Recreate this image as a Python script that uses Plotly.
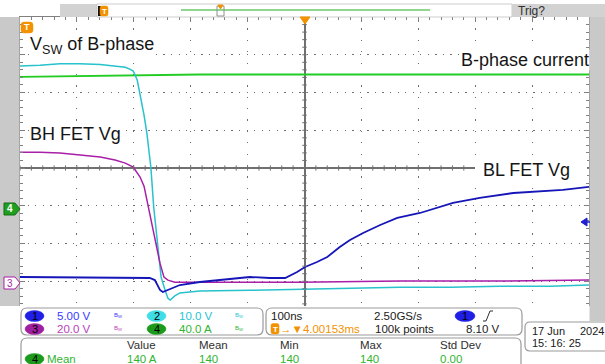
import plotly.graph_objects as go

W, H = 605, 364

# ---------------- data (time in ns, values in channel units) ----------------
ch2_t = [-500, -465, -430, -395, -359, -333, -315, -307, -301, -294, -289, -282, -277,
         -270, -265, -259, -252, -245, -240, -236, -228, -219, -184, -96, -8, 80, 168,
         256, 344, 431, 500]
ch2_v = [57.5, 57.7, 58.1, 58.1, 57.9, 57.6, 57.2, 56.7, 56.2, 53.8, 50.3, 44.5, 39.7,
         30.7, 20.1, 10.6, 1.6, -1.9, -4.0, -4.5, -3.4, -2.6, -2.1, -1.9, -1.6, -1.3, -1.1,
         -1.1, -0.8, -0.8, -0.5]

ch4_t = [-500, -430, -359, -272, -184, -8, 168, 344, 500]
ch4_a = [140.0, 140.5, 141.0, 141.5, 142.5, 142.5, 142.5, 142.5, 142.5]

ch3_t = [-500, -465, -430, -395, -359, -333, -315, -301, -289, -282, -277, -268, -259,
         -254, -247, -240, -228, -184, -8, 168, 344, 500]
ch3_v = [69.4, 69.4, 68.9, 67.8, 66.8, 65.2, 63.6, 61.5, 56.2, 51.4, 44.0, 31.8, 17.5,
         10.6, 3.2, 1.6, 0.5, 0.5, 0.5, 1.1, 1.1, 1.6]

ch1_t = [-500, -359, -272, -263, -254, -249, -236, -219, -184, -131, -96, -61, -34, -13,
         1, 22, 40, 62, 80, 103, 133, 163, 203, 261, 308, 367, 402, 454, 500]
ch1_v = [0.66, 0.53, 0.53, 0.26, -1.06, -1.33, -0.93, -0.40, 0.0, 0.40, 0.66, 0.53, 0.53,
         1.33, 1.99, 2.65, 3.31, 4.64, 5.57, 6.49, 7.55, 8.48, 9.14, 10.47, 11.13, 11.79,
         11.93, 12.19, 12.59]

# channel settings: volts (amps) per division and ground position in divisions
CH1_SCALE, CH1_GND = 5.0, -3.02
CH2_SCALE, CH2_GND = 10.0, -3.05
CH3_SCALE, CH3_GND = 20.0, -3.05
CH4_SCALE, CH4_GND = 40.0, -1.086

C_BLUE = "#1515b8"
C_CYAN = "#27c2cc"
C_MAG = "#a81fa8"
C_GREEN = "#22cc22"
C_ORANGE = "#f39200"


def to_div(vals, scale, gnd):
    return [v / scale + gnd for v in vals]


fig = go.Figure()
fig.add_trace(go.Scatter(x=ch4_t, y=to_div(ch4_a, CH4_SCALE, CH4_GND), mode="lines",
                         line=dict(color=C_GREEN, width=1.8), hoverinfo="skip"))
fig.add_trace(go.Scatter(x=ch2_t, y=to_div(ch2_v, CH2_SCALE, CH2_GND), mode="lines",
                         line=dict(color=C_CYAN, width=1.5), hoverinfo="skip"))
fig.add_trace(go.Scatter(x=ch3_t, y=to_div(ch3_v, CH3_SCALE, CH3_GND), mode="lines",
                         line=dict(color=C_MAG, width=1.5), hoverinfo="skip"))
fig.add_trace(go.Scatter(x=ch1_t, y=to_div(ch1_v, CH1_SCALE, CH1_GND), mode="lines",
                         line=dict(color=C_BLUE, width=1.8), hoverinfo="skip"))

# ---------------- helpers (pixel -> paper) ----------------
def PX(x):
    return x / W


def PY(y):
    return 1 - y / H


def P(x, y):
    return f"{x / W:.5f},{1 - y / H:.5f}"


shapes = []
annos = []


def rect(x0, y0, x1, y1, fill, line=None, lw=0):
    shapes.append(dict(type="rect", xref="paper", yref="paper", x0=PX(x0), x1=PX(x1),
                       y0=PY(y1), y1=PY(y0), fillcolor=fill, layer="above",
                       line=dict(color=line or fill, width=lw)))


def rrect(x0, y0, x1, y1, r, fill="white", line="#9a9a9a", lw=1.2):
    path = (f"M{P(x0 + r, y0)} L{P(x1 - r, y0)} Q{P(x1, y0)} {P(x1, y0 + r)} "
            f"L{P(x1, y1 - r)} Q{P(x1, y1)} {P(x1 - r, y1)} L{P(x0 + r, y1)} "
            f"Q{P(x0, y1)} {P(x0, y1 - r)} L{P(x0, y0 + r)} Q{P(x0, y0)} {P(x0 + r, y0)} Z")
    shapes.append(dict(type="path", path=path, xref="paper", yref="paper",
                       fillcolor=fill, layer="above", line=dict(color=line, width=lw)))


def poly(pts, fill, line=None, lw=1):
    path = "M" + " L".join(P(x, y) for x, y in pts) + " Z"
    shapes.append(dict(type="path", path=path, xref="paper", yref="paper",
                       fillcolor=fill, layer="above", line=dict(color=line or fill, width=lw)))


def seg(x0, y0, x1, y1, color, lw=1):
    shapes.append(dict(type="line", xref="paper", yref="paper", x0=PX(x0), y0=PY(y0),
                       x1=PX(x1), y1=PY(y1), layer="above", line=dict(color=color, width=lw)))


def ellipse(x0, y0, x1, y1, fill):
    shapes.append(dict(type="circle", xref="paper", yref="paper", x0=PX(x0), x1=PX(x1),
                       y0=PY(y1), y1=PY(y0), fillcolor=fill, layer="above",
                       line=dict(color=fill, width=0.5)))


FONT = "Liberation Sans, Arial, sans-serif"


def text(x, y, s, color="#202020", size=11, xanchor="left", bg=None, family=FONT, pad=0):
    a = dict(xref="paper", yref="paper", x=PX(x), y=PY(y), text=s, showarrow=False,
             xanchor=xanchor, yanchor="middle", font=dict(family=family, size=size, color=color),
             borderpad=pad)
    if bg:
        a["bgcolor"] = bg
    annos.append(a)


# ---------------- crosshair minor ticks (data coords) ----------------
for k in range(51):
    t = -500 + 20 * k
    if t == 0 or t > 290:
        continue
    shapes.append(dict(type="line", xref="x", yref="y", x0=t, x1=t, y0=-0.07, y1=0.07,
                       layer="above", line=dict(color="#707070", width=1)))
for k in range(41):
    yv = -4 + 0.2 * k
    if abs(yv) < 1e-6:
        continue
    shapes.append(dict(type="line", xref="x", yref="y", x0=-4, x1=4, y0=yv, y1=yv,
                       layer="above", line=dict(color="#707070", width=1)))

# ---------------- scope chrome ----------------
rect(0, 17, 19.5, 306, "#c9c9c9")
rect(589.5, 4, 605, 321, "#c9c9c9")
rect(60, 4, 97, 17, "#d2d2d2")
rect(97, 4, 512, 17, "#ffffff", "#c0c0c0", 0.8)
rect(512, 4, 605, 17, "#d2d2d2")
text(517, 11, "Trig?", "#303030", 12)
seg(181, 10, 430, 10, "#8fd68f", 2)
rect(217, 6, 224, 16, "rgba(0,0,0,0)", "#909090", 1)
poly([(218, 5), (223, 5), (220.5, 9)], C_ORANGE)
rect(98, 6, 101, 16, "#101010")
rrect(100, 6, 108, 16, 2, C_ORANGE, C_ORANGE, 0.5)
text(104, 11, "<b>T</b>", "white", 8, "center")

# trigger position marker and T marker
poly([(300, 17), (310, 17), (305, 24)], C_ORANGE)
rrect(21, 22, 33, 33, 3, C_ORANGE, C_ORANGE, 0.5)
text(27, 27.5, "<b>T</b>", "white", 9, "center")

# ground markers
poly([(4, 203), (15, 203), (20, 209), (15, 215), (4, 215)], "#1f9e1f", "#137013", 1)
text(10, 209, "<b>4</b>", "white", 10, "center")
poly([(4, 277), (15, 277), (20, 283), (15, 289), (4, 289)], "white", C_MAG, 1)
text(10, 283, "3", C_MAG, 10, "center")

# trigger level marker (right)
poly([(581, 222), (587, 218), (587, 226)], "#2020d0")
seg(584, 222, 590, 222, "#2020d0", 1.5)

# white box behind "BL FET Vg"
rect(475, 158, 587, 180, "white")

# big labels
BIG = "Liberation Sans, Arial, sans-serif"
text(29, 45, "V<sub>SW</sub> of B-phase", "#151515", 18, bg="white", family=BIG, pad=0)
text(29, 134, "BH FET Vg", "#151515", 18, bg="white", family=BIG, pad=0)
text(460, 60, "B-phase current", "#151515", 18, bg="white", family=BIG, pad=0)
text(482, 170, "BL FET Vg", "#151515", 18, bg="white", family=BIG, pad=0)

# ---------------- bottom panels ----------------
rect(0, 306, 605, 364, "white")
rect(589.5, 306, 605, 321, "#c9c9c9")
rrect(21, 308, 263, 335, 6)
rrect(266, 308, 522, 335, 6)
rrect(525, 322, 620, 351, 5)
rrect(21, 338, 521, 380, 6)

R1, R2 = 316, 329
ellipse(25, 310.5, 44, 321.5, "#1f1fe6")
text(34.5, R1, "1", "black", 11, "center")
text(56, R1, "5.00 V", "#3a3aff", 11.5)
text(113, R1 - 1, "B<sub>W</sub>", "#3a3aff", 6)
ellipse(147, 310.5, 166, 321.5, "#3fdde6")
text(156.5, R1, "2", "black", 11, "center")
text(178, R1, "10.0 V", "#24c4cf", 11.5)
text(234, R1 - 1, "B<sub>W</sub>", "#24c4cf", 6)

ellipse(25, 323.5, 44, 334.5, "#a01ea0")
text(34.5, R2, "3", "black", 11, "center")
text(56, R2, "20.0 V", "#bb3dbb", 11.5)
text(113, R2 - 1, "B<sub>W</sub>", "#bb3dbb", 6)
ellipse(147, 323.5, 166, 334.5, "#1c9a1c")
text(156.5, R2, "4", "black", 11, "center")
text(178, R2, "40.0 A", "#2fb52f", 11.5)
text(234, R2 - 1, "B<sub>W</sub>", "#2fb52f", 6)

text(270, R1, "100ns", "#202020", 11.5)
text(373, R1, "2.50GS/s", "#202020", 11.5)
ellipse(455, 310.5, 475, 321.5, "#1f1fe6")
text(465, R1, "1", "black", 11, "center")
shapes.append(dict(type="path", path=f"M{P(483, 321)} L{P(486, 321)} L{P(490, 311)} L{P(493, 311)}",
                   xref="paper", yref="paper", layer="above", line=dict(color="#303030", width=1)))
rrect(271, 323.5, 279, 334, 2, C_ORANGE, C_ORANGE, 0.5)
text(275, R2, "<b>T</b>", "white", 8, "center")
text(279, R2, "→▼4.00153ms", C_ORANGE, 11.5)
text(374, R2, "100k points", "#202020", 11.5)
text(465, R2, "8.10 V", "#202020", 11.5)

text(531, 331, "17 Jun", "#202020", 11)
text(579, 331, "2024", "#202020", 11)
text(531, 343, "15: 16: 25", "#202020", 11)

M1, M2 = 345, 359
for xx, s in [(126, "Value"), (198, "Mean"), (279, "Min"), (359, "Max"), (439, "Std Dev")]:
    text(xx, M1, s, "#303030", 11.5)
ellipse(25, 353.5, 44, 364.5, "#1c9a1c")
text(34.5, M2, "4", "black", 11, "center")
text(46, M2, "Mean", "#2fb52f", 11.5)
for xx, s in [(126, "140 A"), (198, "140"), (279, "140"), (359, "140"), (439, "0.00")]:
    text(xx, M2, s, "#2fb52f", 11.5)

# ---------------- axes / layout ----------------
fig.update_layout(
    width=W, height=H, margin=dict(l=0, r=0, t=0, b=0),
    paper_bgcolor="white", plot_bgcolor="white", showlegend=False,
    xaxis=dict(domain=[20 / W, 589 / W], range=[-500, 500], dtick=100, tick0=0,
               showticklabels=False, showgrid=True, gridcolor="#6e6e6e", gridwidth=1.3,
               griddash="1.3px,10.08px", zeroline=True, zerolinecolor="#707070", zerolinewidth=1.5,
               showline=True, linecolor="#808080", linewidth=1, mirror="allticks",
               ticks="inside", ticklen=5, tickcolor="#808080",
               minor=dict(dtick=20, ticks="inside", ticklen=3, tickcolor="#808080", showgrid=False),
               fixedrange=True),
    yaxis=dict(domain=[1 - 319 / H, 1 - 17 / H], range=[-4, 4], dtick=1, tick0=0,
               showticklabels=False, showgrid=True, gridcolor="#6e6e6e", gridwidth=1.3,
               griddash="1.3px,6.25px", zeroline=True, zerolinecolor="#707070", zerolinewidth=1.5,
               showline=True, linecolor="#808080", linewidth=1, mirror="allticks",
               ticks="inside", ticklen=5, tickcolor="#808080",
               minor=dict(dtick=0.2, ticks="inside", ticklen=3, tickcolor="#808080", showgrid=False),
               fixedrange=True),
    shapes=shapes, annotations=annos,
)

fig.write_html("out.html", config={"displayModeBar": False},
               post_script="document.body.style.margin='0';document.body.style.overflow='hidden';")
